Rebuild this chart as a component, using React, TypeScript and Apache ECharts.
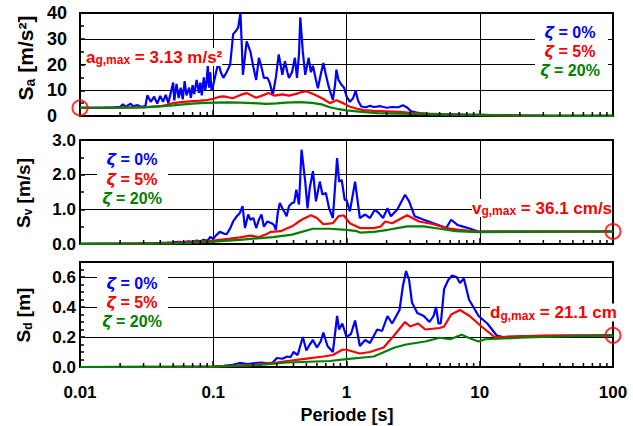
import React, { useEffect, useRef } from 'react';
import * as echarts from 'echarts';

const FONT = "'Liberation Sans', Arial, Helvetica, sans-serif";
const BLUE = '#0000ff';
const RED = '#ff0000';
const GREEN = '#008000';

// ---------- peak ground values ----------
const agMax = 3.13; // m/s²
const vgMax = 0.361; // m/s
const dgMax = 0.211; // m

// ---------- Sa [m/s²] ----------
const saT0 = [0.01, 0.012, 0.015, 0.018, 0.02, 0.021, 0.022, 0.024, 0.025, 0.027, 0.029, 0.031, 0.032, 0.034, 0.036, 0.038, 0.04, 0.042, 0.044, 0.046, 0.048, 0.05, 0.051, 0.053, 0.055, 0.057, 0.059, 0.061, 0.063, 0.066, 0.068, 0.07, 0.072, 0.075, 0.078, 0.08, 0.082, 0.085, 0.087, 0.089, 0.091, 0.093, 0.095, 0.097, 0.1, 0.105, 0.109, 0.114, 0.119, 0.126, 0.134, 0.141, 0.148, 0.154, 0.16, 0.163, 0.167, 0.172, 0.178, 0.184, 0.19, 0.2, 0.21, 0.22, 0.23, 0.24, 0.255, 0.265, 0.28, 0.295, 0.31, 0.32, 0.33, 0.345, 0.36, 0.37, 0.39, 0.41, 0.425, 0.44, 0.45, 0.47, 0.49, 0.52, 0.54, 0.56, 0.59, 0.61, 0.64, 0.67, 0.7, 0.73, 0.76, 0.79, 0.82, 0.84, 0.87, 0.92, 0.96, 1.0, 1.06, 1.12, 1.17, 1.22, 1.29, 1.4, 1.5, 1.6, 1.8, 2.0, 2.2, 2.45, 2.65, 2.85, 3.05, 3.3, 3.6, 4.2, 5, 6, 7, 8, 10, 15, 20, 30, 50, 100];
const sa0 = [3.2, 3.2, 3.3, 3.4, 3.6, 4.5, 3.6, 4.8, 3.8, 4.2, 3.5, 4.0, 8.0, 5.5, 7.5, 4.8, 7.8, 5.5, 8.2, 5.0, 9.0, 13.0, 6.0, 12.5, 7.0, 11.0, 6.5, 13.5, 8.0, 11.0, 7.0, 12.0, 8.5, 14.0, 9.0, 13.0, 8.0, 15.0, 10.0, 13.0, 19.5, 11.0, 17.0, 10.0, 12.0, 17.0, 20.6, 17.0, 14.8, 17.0, 20.0, 31.8, 33.0, 34.4, 40.0, 30.0, 16.0, 22.0, 29.0, 27.0, 25.0, 19.0, 14.0, 22.6, 19.0, 14.8, 14.8, 13.0, 8.2, 15.0, 23.9, 20.0, 16.0, 21.3, 17.0, 14.8, 17.0, 22.6, 14.8, 24.0, 38.3, 25.0, 16.0, 22.6, 17.0, 19.5, 14.0, 10.8, 16.0, 20.6, 16.0, 12.0, 9.0, 6.3, 12.0, 18.0, 14.0, 12.0, 11.0, 7.6, 5.5, 6.9, 9.8, 6.0, 3.7, 3.4, 4.0, 3.5, 3.8, 3.2, 3.5, 3.4, 4.2, 3.3, 1.8, 1.4, 1.0, 0.7, 0.6, 0.55, 0.5, 0.45, 0.4, 0.3, 0.2, 0.12, 0.05, 0.02];
const saT5 = [0.01, 0.02, 0.03, 0.04, 0.045, 0.05, 0.06, 0.07, 0.08, 0.09, 0.1, 0.11, 0.12, 0.14, 0.16, 0.178, 0.21, 0.24, 0.26, 0.29, 0.33, 0.37, 0.42, 0.46, 0.5, 0.55, 0.6, 0.67, 0.75, 0.84, 0.95, 1.05, 1.2, 1.35, 1.6, 2.0, 2.5, 3.0, 4.0, 5.0, 7.0, 10, 15, 20, 30, 50, 100];
const sa5 = [3.2, 3.25, 3.4, 3.8, 4.3, 5.0, 5.5, 5.8, 6.0, 6.2, 6.7, 7.4, 7.6, 6.9, 8.2, 8.9, 7.1, 8.2, 8.9, 7.9, 8.4, 7.9, 8.6, 9.3, 9.6, 8.7, 7.9, 6.6, 5.0, 6.1, 4.9, 3.7, 2.8, 2.3, 2.0, 1.8, 1.6, 1.2, 0.9, 0.7, 0.5, 0.4, 0.25, 0.18, 0.1, 0.05, 0.02];
const saT20 = [0.01, 0.02, 0.03, 0.04, 0.05, 0.06, 0.07, 0.08, 0.1, 0.13, 0.16, 0.2, 0.25, 0.3, 0.35, 0.45, 0.55, 0.65, 0.75, 0.85, 1.0, 1.3, 1.7, 2.5, 4, 6, 10, 20, 50, 100];
const sa20 = [3.2, 3.25, 3.35, 3.7, 4.1, 4.5, 4.8, 5.0, 5.2, 5.3, 5.2, 5.0, 4.7, 4.9, 5.2, 5.4, 5.1, 4.5, 3.4, 2.8, 2.2, 1.6, 1.1, 0.9, 0.7, 0.5, 0.35, 0.15, 0.05, 0.02];

// ---------- Sv [m/s] ----------
const svT0 = [0.01, 0.015, 0.02, 0.025, 0.03, 0.035, 0.04, 0.045, 0.05, 0.055, 0.06, 0.065, 0.07, 0.075, 0.08, 0.085, 0.09, 0.095, 0.1, 0.105, 0.112, 0.12, 0.126, 0.134, 0.141, 0.15, 0.158, 0.166, 0.173, 0.183, 0.19, 0.2, 0.21, 0.22, 0.23, 0.24, 0.255, 0.274, 0.285, 0.295, 0.305, 0.316, 0.33, 0.345, 0.355, 0.37, 0.39, 0.405, 0.42, 0.44, 0.46, 0.49, 0.51, 0.53, 0.56, 0.59, 0.63, 0.66, 0.7, 0.74, 0.79, 0.85, 0.88, 0.92, 0.97, 1.0, 1.06, 1.16, 1.26, 1.38, 1.5, 1.63, 1.75, 1.88, 2.03, 2.15, 2.4, 2.75, 2.95, 3.25, 3.8, 4.5, 5.3, 5.6, 6.1, 6.8, 7.5, 8.5, 9.7, 12, 20, 50, 100];
const sv0 = [0.005, 0.008, 0.01, 0.015, 0.02, 0.025, 0.03, 0.04, 0.05, 0.06, 0.05, 0.08, 0.06, 0.1, 0.08, 0.12, 0.09, 0.2, 0.15, 0.25, 0.35, 0.3, 0.28, 0.45, 0.65, 0.8, 0.89, 1.09, 0.46, 0.85, 0.7, 0.75, 0.46, 0.7, 0.85, 0.5, 0.65, 0.6, 0.55, 0.41, 0.9, 1.18, 1.03, 0.9, 0.8, 1.09, 1.18, 1.2, 1.57, 1.14, 2.72, 1.8, 1.03, 1.62, 2.1, 1.23, 1.8, 1.43, 1.47, 1.03, 0.75, 2.48, 1.8, 1.85, 1.27, 1.27, 0.94, 1.8, 0.75, 0.85, 0.75, 0.99, 0.89, 0.75, 1.03, 0.8, 0.99, 1.42, 1.23, 0.8, 0.7, 0.6, 0.5, 0.46, 0.7, 0.55, 0.5, 0.44, 0.36, 0.36, 0.36, 0.36, 0.36];
const svT5 = [0.01, 0.02, 0.03, 0.05, 0.07, 0.1, 0.13, 0.158, 0.19, 0.22, 0.25, 0.27, 0.32, 0.39, 0.46, 0.54, 0.6, 0.67, 0.79, 0.87, 0.95, 1.06, 1.26, 1.6, 1.8, 1.95, 2.2, 2.85, 3.5, 4.5, 5.6, 7, 9.7, 15, 30, 100];
const sv5 = [0.005, 0.01, 0.015, 0.03, 0.06, 0.1, 0.15, 0.19, 0.24, 0.2, 0.28, 0.35, 0.37, 0.51, 0.7, 0.83, 0.75, 0.57, 0.6, 0.8, 0.83, 0.6, 0.46, 0.46, 0.5, 0.65, 0.6, 0.83, 0.65, 0.57, 0.46, 0.41, 0.36, 0.36, 0.36, 0.36];
const svT20 = [0.01, 0.03, 0.05, 0.07, 0.1, 0.158, 0.28, 0.39, 0.56, 0.75, 1.0, 1.2, 1.26, 1.6, 2.05, 2.85, 3.8, 5, 6.6, 9.7, 20, 50, 100];
const sv20 = [0.005, 0.01, 0.02, 0.04, 0.07, 0.12, 0.2, 0.27, 0.44, 0.44, 0.41, 0.37, 0.33, 0.35, 0.41, 0.51, 0.51, 0.44, 0.37, 0.34, 0.35, 0.36, 0.36];

// ---------- Sd [m] ----------
const sdT0 = [0.01, 0.05, 0.1, 0.12, 0.14, 0.158, 0.18, 0.2, 0.23, 0.26, 0.28, 0.3, 0.33, 0.36, 0.38, 0.4, 0.43, 0.47, 0.5, 0.53, 0.56, 0.6, 0.64, 0.67, 0.72, 0.79, 0.85, 0.88, 0.93, 1.0, 1.08, 1.16, 1.26, 1.38, 1.5, 1.7, 1.85, 2.03, 2.2, 2.5, 2.65, 2.8, 2.95, 3.1, 3.4, 3.8, 4.2, 4.5, 4.7, 4.9, 5.1, 5.4, 5.8, 6.2, 6.7, 7.1, 7.6, 8.3, 9.8, 11.4, 13.4, 15, 20, 50, 100];
const sd0 = [0.0, 0.001, 0.003, 0.008, 0.015, 0.027, 0.02, 0.025, 0.03, 0.025, 0.03, 0.06, 0.055, 0.07, 0.065, 0.1, 0.08, 0.2, 0.11, 0.15, 0.18, 0.13, 0.17, 0.23, 0.14, 0.1, 0.34, 0.25, 0.29, 0.2, 0.22, 0.31, 0.14, 0.18, 0.16, 0.25, 0.24, 0.34, 0.29, 0.38, 0.54, 0.64, 0.58, 0.43, 0.36, 0.34, 0.3, 0.34, 0.4, 0.29, 0.29, 0.52, 0.58, 0.61, 0.6, 0.56, 0.59, 0.45, 0.34, 0.29, 0.21, 0.2, 0.205, 0.21, 0.211];
const sdT5 = [0.01, 0.1, 0.2, 0.3, 0.36, 0.47, 0.67, 0.79, 0.93, 1.0, 1.26, 1.5, 1.9, 2.3, 2.75, 3.0, 3.45, 3.9, 5, 5.4, 6.1, 7.1, 8.4, 10.3, 12.9, 15, 30, 100];
const sd5 = [0.0, 0.003, 0.015, 0.03, 0.04, 0.053, 0.07, 0.08, 0.115, 0.115, 0.09, 0.1, 0.13, 0.215, 0.3, 0.27, 0.29, 0.25, 0.26, 0.27, 0.35, 0.38, 0.34, 0.27, 0.2, 0.2, 0.21, 0.211];
const sdT20 = [0.01, 0.1, 0.2, 0.36, 0.75, 1.0, 1.6, 2.3, 2.8, 3.9, 5, 6, 7.3, 8.5, 9.8, 11, 15, 20, 30, 50, 100];
const sd20 = [0.0, 0.002, 0.01, 0.03, 0.04, 0.053, 0.07, 0.13, 0.15, 0.17, 0.195, 0.185, 0.215, 0.19, 0.17, 0.185, 0.19, 0.195, 0.2, 0.205, 0.211];

// ---------- axes ----------
const periodDecades = [0.01, 0.1, 1, 10];
const minorFactors = [2, 3, 4, 5, 6, 7, 8, 9];
const dampingLabels = ['0%', '5%', '20%'];

const zip = (t: number[], v: number[]) => t.map((x, i) => [x, v[i]]);

const grids = [
  { left: 80, top: 13, width: 533, height: 103 },
  { left: 80, top: 140, width: 533, height: 104 },
  { left: 80, top: 262, width: 533, height: 105 },
];

function buildOption() {
  const minorVals = periodDecades.flatMap((d) => minorFactors.map((m) => [d * m, 0]));
  const xAxes = grids.map((_, i) => ({
    type: 'log',
    logBase: 10,
    min: 0.01,
    max: 100,
    gridIndex: i,
    axisLine: { show: true, lineStyle: { color: '#000', width: 2 } },
    axisTick: { show: true, inside: true, length: 6, lineStyle: { color: '#000', width: 1.5 } },
    splitLine: { show: true, lineStyle: { color: '#000', width: 1 } },
    axisLabel: {
      show: i === 2,
      margin: 17,
      color: '#000',
      fontFamily: FONT,
      fontWeight: 'bold',
      fontSize: 17,
      formatter: (v: number) => String(Number(v.toPrecision(6))),
    },
  }));
  const yCommon = (i: number) => ({
    type: 'value',
    gridIndex: i,
    axisLine: { show: true, lineStyle: { color: '#000', width: 2 } },
    axisTick: { show: true, inside: true, length: 5, lineStyle: { color: '#000', width: 1.5 } },
    splitLine: { show: true, lineStyle: { color: '#000', width: 1 } },
    minorSplitLine: { show: false },
  });
  const yAxes = [
    {
      ...yCommon(0),
      min: 0, max: 40, interval: 10,
      minorTick: { show: true, splitNumber: 2, length: 4, lineStyle: { color: '#000', width: 1.5 } },
      axisLabel: { align: 'left', margin: 33, color: '#000', fontFamily: FONT, fontWeight: 'bold', fontSize: 18 },
    },
    {
      ...yCommon(1),
      min: 0, max: 3, interval: 1,
      minorTick: { show: true, splitNumber: 2, length: 4, lineStyle: { color: '#000', width: 1.5 } },
      axisLabel: { margin: 4, color: '#000', fontFamily: FONT, fontWeight: 'bold', fontSize: 17, formatter: (v: number) => v.toFixed(1) },
    },
    {
      ...yCommon(2),
      min: 0, max: 0.7, interval: 0.2,
      minorTick: { show: true, splitNumber: 4, length: 4, lineStyle: { color: '#000', width: 1.5 } },
      axisLabel: { margin: 4, color: '#000', fontFamily: FONT, fontWeight: 'bold', fontSize: 17, formatter: (v: number) => (v > 0.65 ? '' : v.toFixed(1)) },
    },
  ];

  const line = (i: number, data: number[][], color: string, z: number) => ({
    type: 'line',
    xAxisIndex: i,
    yAxisIndex: i,
    data,
    showSymbol: false,
    symbol: 'none',
    lineStyle: { color, width: 2.2 },
    itemStyle: { color },
    z,
    silent: true,
  });

  const minorTickSeries = (i: number) => ({
    type: 'custom',
    xAxisIndex: i,
    yAxisIndex: i,
    data: minorVals,
    silent: true,
    clip: false,
    z: 6,
    renderItem: (params: any, api: any) => {
      const p = api.coord([api.value(0), api.value(1)]);
      const cs = params.coordSys;
      const yb = cs.y + cs.height;
      return {
        type: 'line',
        shape: { x1: p[0], y1: yb, x2: p[0], y2: yb - 4 },
        style: { stroke: '#000', lineWidth: 1.5 },
      };
    },
  });

  const circle = (i: number, pt: number[]) => ({
    type: 'scatter',
    xAxisIndex: i,
    yAxisIndex: i,
    data: [pt],
    symbol: 'circle',
    symbolSize: 15,
    clip: false,
    silent: true,
    z: 10,
    itemStyle: { color: 'rgba(0,0,0,0)', borderColor: RED, borderWidth: 2 },
  });

  const series = [
    line(0, zip(saT0, sa0), BLUE, 2), line(0, zip(saT5, sa5), RED, 3), line(0, zip(saT20, sa20), GREEN, 4),
    line(1, zip(svT0, sv0), BLUE, 2), line(1, zip(svT5, sv5), RED, 3), line(1, zip(svT20, sv20), GREEN, 4),
    line(2, zip(sdT0, sd0), BLUE, 2), line(2, zip(sdT5, sd5), RED, 3), line(2, zip(sdT20, sd20), GREEN, 4),
    minorTickSeries(0), minorTickSeries(1), minorTickSeries(2),
    circle(0, [0.01, agMax]), circle(1, [100, vgMax]), circle(2, [100, dgMax]),
  ];

  const legColors = [BLUE, RED, GREEN];
  const legend = (cx: number, ys: number[], box: number[]) => [
    { type: 'rect', shape: { x: box[0], y: box[1], width: box[2], height: box[3] }, style: { fill: '#fff' }, z: 50 },
    ...ys.map((y, k) => ({
      type: 'text',
      x: cx,
      y,
      z: 51,
      style: {
        text: `{z|ζ}{t| = ${dampingLabels[k]}}`,
        align: 'center',
        verticalAlign: 'middle',
        rich: {
          z: { fill: legColors[k], fontFamily: 'DejaVu Sans', fontStyle: 'italic', fontWeight: 'bold', fontSize: 16 },
          t: { fill: legColors[k], fontFamily: FONT, fontWeight: 'bold', fontSize: 16 },
        },
      },
    })),
  ];

  const note = (x: number, y: number, main: string, rest: string) => ({
    type: 'text',
    x,
    y,
    z: 51,
    style: {
      text: `{m|${main}}{s|g,max}{m|${rest}}`,
      align: 'left',
      verticalAlign: 'middle',
      backgroundColor: '#fff',
      rich: {
        m: { fill: RED, fontFamily: FONT, fontWeight: 'bold', fontSize: 17, lineHeight: 18 },
        s: { fill: RED, fontFamily: FONT, fontWeight: 'bold', fontSize: 12, lineHeight: 8, verticalAlign: 'bottom' },
      },
    },
  });

  const yTitle = (x: number, y: number, sub: string, unit: string, size: number) => ({
    type: 'text',
    x,
    y,
    rotation: Math.PI / 2,
    z: 51,
    style: {
      text: `{m|S}{s|${sub}}{m| ${unit}}`,
      align: 'center',
      verticalAlign: 'middle',
      rich: {
        m: { fill: '#000', fontFamily: FONT, fontWeight: 'bold', fontSize: size, lineHeight: size + 2 },
        s: { fill: '#000', fontFamily: FONT, fontWeight: 'bold', fontSize: Math.round(size * 0.65), lineHeight: 8, verticalAlign: 'bottom' },
      },
    },
  });

  const graphic = [
    ...legend(570, [32, 51.5, 70], [535, 22, 73, 58]),
    ...legend(132, [159.5, 179, 198], [97, 150, 71, 56]),
    ...legend(132, [283, 302.5, 321.5], [97, 273, 71, 57]),
    note(86, 57, 'a', ` = ${agMax.toFixed(2)} m/s²`),
    note(472, 208, 'v', ` = ${(vgMax * 100).toFixed(1)} cm/s`),
    note(490, 312.5, 'd', ` = ${(dgMax * 100).toFixed(1)} cm`),
    yTitle(25, 58, 'a', '[m/s²]', 21),
    yTitle(23, 193, 'v', '[m/s]', 19),
    yTitle(23, 315, 'd', '[m]', 19),
    {
      type: 'text',
      x: 347,
      y: 415,
      style: { text: 'Periode [s]', align: 'center', verticalAlign: 'middle', fill: '#000', font: `bold 18px ${FONT}` },
    },
  ];

  return {
    animation: false,
    backgroundColor: '#fff',
    grid: grids.map((g) => ({ ...g, show: true, borderColor: '#000', borderWidth: 2, backgroundColor: 'rgba(0,0,0,0)' })),
    xAxis: xAxes,
    yAxis: yAxes,
    series,
    graphic,
  };
}

export default function App() {
  const ref = useRef<HTMLDivElement>(null);
  useEffect(() => {
    if (!ref.current) return;
    const chart = echarts.init(ref.current, null, { renderer: 'svg' });
    chart.setOption(buildOption() as any);
    return () => chart.dispose();
  }, []);
  return (
    <div
      ref={ref}
      style={{ position: 'absolute', left: 0, top: 0, width: 633, height: 426, background: '#fff' }}
    />
  );
}
